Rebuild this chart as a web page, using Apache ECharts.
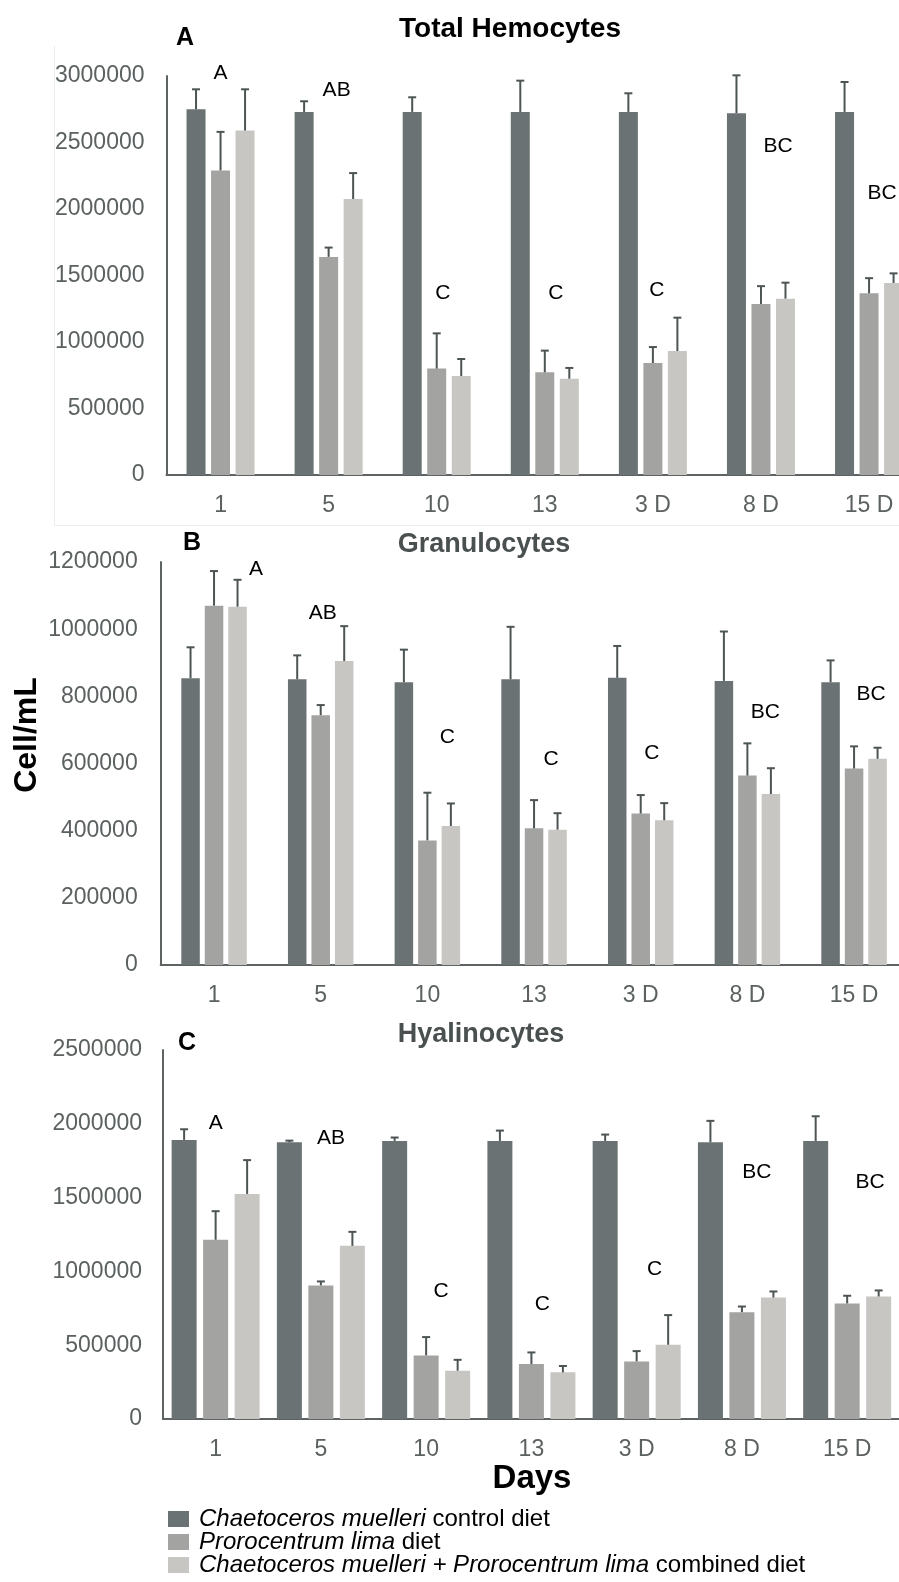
<!DOCTYPE html>
<html>
<head>
<meta charset="utf-8">
<script src="https://cdn.jsdelivr.net/npm/echarts@6/dist/echarts.min.js"></script>
<style>
  html, body { margin: 0; padding: 0; background: #fff; }
  #chart { width: 899px; height: 1582px; }
</style>
</head>
<body>
<div id="chart"></div>
<script>
// categories
const days = ['1', '5', '10', '13', '3 D', '8 D', '15 D'];
const dietNames = [
  'Chaetoceros muelleri control diet',
  'Prorocentrum lima diet',
  'Chaetoceros muelleri + Prorocentrum lima combined diet'
];

// A - Total hemocytes (mean, sd)
const totalControl = [2750000, 2730000, 2730000, 2730000, 2730000, 2720000, 2730000];
const totalControlSd = [150000, 80000, 110000, 235000, 140000, 285000, 225000];
const totalLima = [2290000, 1640000, 800000, 772000, 842000, 1286000, 1366000];
const totalLimaSd = [290000, 70000, 265000, 163000, 120000, 134000, 114000];
const totalCombined = [2590000, 2075000, 744000, 724000, 932000, 1326000, 1444000];
const totalCombinedSd = [310000, 195000, 128000, 81000, 251000, 120000, 72000];

// B - Granulocytes
const granControl = [854000, 851000, 842000, 851000, 855000, 846000, 842000];
const granControlSd = [92000, 71000, 97000, 156000, 95000, 147000, 65000];
const granLima = [1070000, 744000, 371000, 407000, 451000, 564000, 585000];
const granLimaSd = [103000, 30000, 142000, 84000, 55000, 96000, 66000];
const granCombined = [1067000, 905000, 414000, 403000, 431000, 509000, 614000];
const granCombinedSd = [80000, 104000, 67000, 49000, 51000, 77000, 33000];

// C - Hyalinocytes
const hyalControl = [1891000, 1875000, 1884000, 1884000, 1884000, 1875000, 1884000];
const hyalControlSd = [72000, 11000, 23000, 70000, 43000, 145000, 167000];
const hyalLima = [1214000, 905000, 431000, 372000, 390000, 724000, 783000];
const hyalLimaSd = [194000, 27000, 124000, 79000, 70000, 38000, 52000];
const hyalCombined = [1525000, 1173000, 327000, 316000, 503000, 823000, 830000];
const hyalCombinedSd = [229000, 95000, 74000, 43000, 201000, 41000, 41000];

// significance letters: text and height (in axis units) per day
const letterText = ['A', 'AB', 'C', 'C', 'C', 'BC', 'BC'];
const totalLetterY = [3020000, 2895000, 1368000, 1368000, 1391000, 2474000, 2120000];
const granLetterY = [1179000, 1049000, 679000, 613000, 631000, 754000, 807000];
const hyalLetterY = [2004000, 1902000, 869000, 781000, 1018000, 1670000, 1607000];

// y axis ticks
const totalMax = 3000000, totalStep = 500000;
const granMax = 1200000, granStep = 200000;
const hyalMax = 2500000, hyalStep = 500000;

const FONT = "'Liberation Sans', Arial, sans-serif";
const barColors = ['#6b7273', '#a3a3a1', '#c8c6c3'];
const errColor = '#4d5454';
const axisColor = '#5d6363';
const labelColor = '#5b6060';

// panel layout (pixels)
const panels = [
  { left: 166.5, top: 76, width: 756.6, height: 399, bw: 19, gap: 0.29, max: totalMax, step: totalStep, lblMargin: 22,
    data: [totalControl, totalLima, totalCombined], sd: [totalControlSd, totalLimaSd, totalCombinedSd],
    letters: totalLetterY, letterDx: [0, 8, 6, 11, 4, 17, 13] },
  { left: 160.7, top: 562, width: 746.7, height: 403, bw: 18.5, gap: 0.27, max: granMax, step: granStep, lblMargin: 23,
    data: [granControl, granLima, granCombined], sd: [granControlSd, granLimaSd, granCombinedSd],
    letters: granLetterY, letterDx: [42, 2, 20, 17, 11, 18, 17] },
  { left: 163, top: 1050, width: 736.8, height: 369, bw: 25, gap: 0.26, max: hyalMax, step: hyalStep, lblMargin: 21,
    data: [hyalControl, hyalLima, hyalCombined], sd: [hyalControlSd, hyalLimaSd, hyalCombinedSd],
    letters: hyalLetterY, letterDx: [0, 10, 15, 11, 18, 15, 23] }
];

const grids = [], xAxes = [], yAxes = [], series = [];

panels.forEach(function (p, i) {
  grids.push({ left: p.left, top: p.top, width: p.width, height: p.height, containLabel: false, outerBoundsMode: 'none' });
  xAxes.push({
    type: 'category', gridIndex: i, data: days,
    axisLine: { show: true, lineStyle: { color: axisColor, width: 2 } },
    axisTick: { show: false },
    splitLine: { show: false },
    axisLabel: { color: labelColor, fontSize: 23, fontFamily: FONT, margin: 19 }
  });
  yAxes.push({
    type: 'value', gridIndex: i, min: 0, max: p.max, interval: p.step,
    axisLine: { show: true, lineStyle: { color: axisColor, width: 2 } },
    axisTick: { show: false },
    splitLine: { show: false },
    axisLabel: {
      color: labelColor, fontSize: 23, fontFamily: FONT, margin: p.lblMargin,
      formatter: function (v) { return String(v); }
    }
  });

  p.data.forEach(function (vals, s) {
    series.push({
      type: 'bar', name: dietNames[s], xAxisIndex: i, yAxisIndex: i,
      data: vals, barWidth: p.bw, barGap: Math.round(p.gap * 100) + '%',
      itemStyle: { color: barColors[s] }, z: 2
    });
  });

  // error bars (upper only)
  const errData = [];
  p.data.forEach(function (vals, s) {
    vals.forEach(function (v, k) { errData.push([k, v, p.sd[s][k], s]); });
  });
  series.push({
    type: 'custom', xAxisIndex: i, yAxisIndex: i, z: 3, silent: true,
    encode: { x: 0, y: 1 },
    data: errData,
    renderItem: function (params, api) {
      const k = api.value(0), v = api.value(1), sd = api.value(2), s = api.value(3);
      const base = api.coord([k, v]);
      const top = api.coord([k, v + sd]);
      const x = base[0] + (s - 1) * p.bw * (1 + p.gap);
      return {
        type: 'group',
        children: [
          { type: 'line', shape: { x1: x, y1: base[1], x2: x, y2: top[1] }, style: { stroke: errColor, lineWidth: 2 } },
          { type: 'line', shape: { x1: x - 4, y1: top[1], x2: x + 4, y2: top[1] }, style: { stroke: errColor, lineWidth: 2 } }
        ]
      };
    }
  });

  // letters
  series.push({
    type: 'custom', xAxisIndex: i, yAxisIndex: i, z: 4, silent: true,
    encode: { x: 0, y: 1 },
    data: p.letters.map(function (v, k) { return [k, v]; }),
    renderItem: function (params, api) {
      const pt = api.coord([api.value(0), api.value(1)]);
      return {
        type: 'text',
        style: {
          text: letterText[params.dataIndex],
          x: pt[0] + p.letterDx[params.dataIndex], y: pt[1],
          fill: '#000', fontSize: 21, fontFamily: FONT,
          align: 'center', verticalAlign: 'middle'
        }
      };
    }
  });
});

function txt(x, y, text, size, color, extra) {
  return Object.assign({
    type: 'text', x: x, y: y,
    style: {
      text: text, fill: color, font: 'bold ' + size + 'px ' + FONT,
      textAlign: 'center', textVerticalAlign: 'middle', align: 'center', verticalAlign: 'middle'
    }
  }, extra || {});
}

const legendText = [
  '{i|Chaetoceros muelleri} control diet',
  '{i|Prorocentrum lima} diet',
  '{i|Chaetoceros muelleri + Prorocentrum lima} combined diet'
];
const legendTops = [1507, 1530, 1553];
const legends = dietNames.map(function (name, s) {
  return {
    orient: 'vertical', left: 168, top: legendTops[s], padding: 0,
    itemWidth: 21, itemHeight: 16, icon: 'rect',
    selectedMode: false,
    data: [name],
    formatter: function () { return legendText[s]; },
    textStyle: {
      color: '#000', fontSize: 24, lineHeight: 24, fontFamily: FONT, padding: [0, 0, 0, 5],
      rich: { i: { fontStyle: 'italic', color: '#000', fontSize: 24, lineHeight: 24, fontFamily: FONT } }
    }
  };
});

const chart = echarts.init(document.getElementById('chart'), null, { renderer: 'canvas' });
chart.setOption({
  backgroundColor: '#ffffff',
  animation: false,
  grid: grids,
  xAxis: xAxes,
  yAxis: yAxes,
  series: series,
  legend: legends,
  graphic: [
    { type: 'line', shape: { x1: 54.5, y1: 46, x2: 54.5, y2: 525.5 }, style: { stroke: '#ececec', lineWidth: 1 } },
    { type: 'line', shape: { x1: 54.5, y1: 525.5, x2: 899, y2: 525.5 }, style: { stroke: '#ececec', lineWidth: 1 } },
    txt(510, 29, 'Total Hemocytes', 28, '#000'),
    txt(185, 38, 'A', 25, '#000'),
    txt(484, 545, 'Granulocytes', 27, '#4a5050'),
    txt(192, 543, 'B', 25, '#000'),
    txt(481, 1035, 'Hyalinocytes', 27, '#4a5050'),
    txt(187, 1043, 'C', 25, '#000'),
    txt(27, 735, 'Cell/mL', 32, '#000', { rotation: Math.PI / 2 }),
    txt(532, 1479, 'Days', 33, '#000')
  ]
});
window.addEventListener('resize', function () { chart.resize(); });
</script>
</body>
</html>
